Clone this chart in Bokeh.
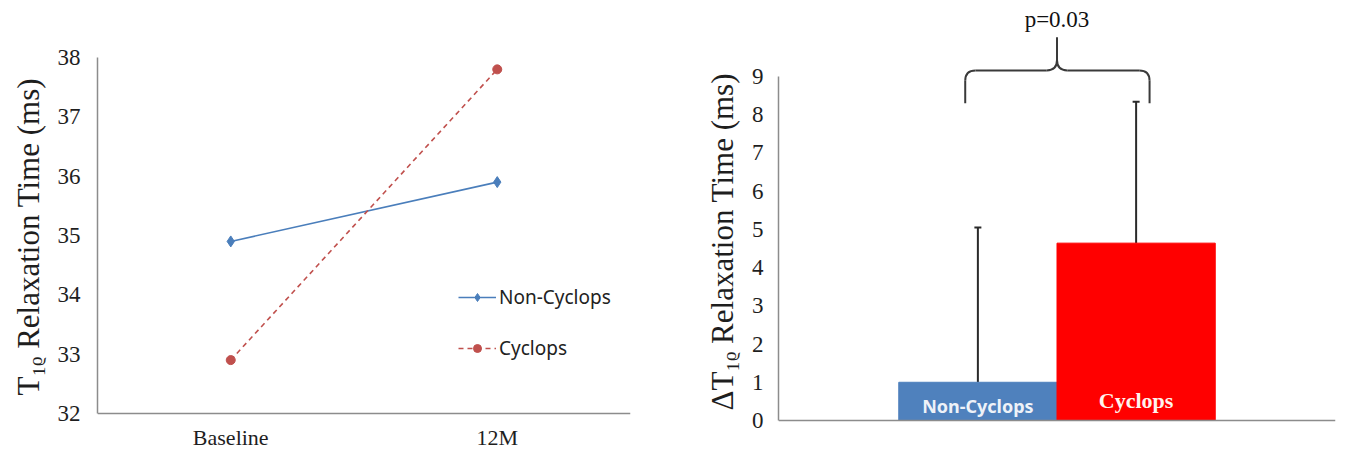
import numpy as np
from bokeh.plotting import figure
from bokeh.models import (FactorRange, Range1d, FixedTicker, Whisker, TeeHead,
                          ColumnDataSource, Label, Title)
from bokeh.layouts import row
from bokeh.core.properties import value
from bokeh.embed import file_html
from bokeh.resources import INLINE

# ---------------- data ----------------
timepoints = ["Baseline", "12M"]
non_cyclops = [34.9, 35.9]
cyclops = [32.9, 37.8]
left_ticks = [32, 33, 34, 35, 36, 37, 38]

groups = ["Non-Cyclops", "Cyclops"]
delta_mean = [1.0, 4.64]
delta_sd = [4.05, 3.70]
right_ticks = [0, 1, 2, 3, 4, 5, 6, 7, 8, 9]
p_text = "p=0.03"

BLUE_LINE = "#4A7EBB"
RED_LINE = "#C0504D"
BLUE_BAR = "#4F81BD"
RED_BAR = "#FF0000"
AXIS_GRAY = "#8C8C8C"
TXT = "#1E1E1E"
SERIF = "Liberation Serif"

H = 454
FRAME_BOTTOM = 450       # both frames span y = 0 .. 450 on the page
BOTTOM = H - FRAME_BOTTOM
W1, W2 = 672, 672


def style_axis(ax, size="23px"):
    ax.axis_line_color = AXIS_GRAY
    ax.axis_line_width = 1.5
    ax.major_tick_line_color = None
    ax.minor_tick_line_color = None
    ax.major_tick_out = 0
    ax.major_tick_in = 0
    ax.major_label_text_font = SERIF
    ax.major_label_text_font_size = size
    ax.major_label_text_color = TXT


# ---------------- left: line chart ----------------
ppu1 = 356 / 6.0         # 38 at y=57, 32 at y=413
p1 = figure(x_range=FactorRange(*timepoints, range_padding=0),
            y_range=Range1d(32 - (FRAME_BOTTOM - 413) / ppu1, 38 + 57 / ppu1),
            width=W1, height=H, output_backend="svg", toolbar_location=None,
            min_border_left=95, min_border_right=W1 - 95 - 535, min_border_top=0,
            min_border_bottom=BOTTOM)
p1.title.visible = False
p1.outline_line_color = None
p1.grid.grid_line_color = None

p1.line(timepoints, non_cyclops, line_color=BLUE_LINE, line_width=1.6,
        legend_label="Non-Cyclops")
p1.scatter(timepoints, non_cyclops, marker="diamond", size=11,
           fill_color=BLUE_LINE, line_color=BLUE_LINE, legend_label="Non-Cyclops")
p1.line(timepoints, cyclops, line_color=RED_LINE, line_width=1.6,
        line_dash="5 4", legend_label="Cyclops")
p1.scatter(timepoints, cyclops, marker="circle", size=9,
           fill_color=RED_LINE, line_color=RED_LINE, legend_label="Cyclops")

xa1 = p1.xaxis[0]
style_axis(xa1, "1px")
xa1.fixed_location = left_ticks[0]
xa1.major_label_text_color = None
xa1.major_label_standoff = 0
ya = p1.yaxis[0]
style_axis(ya)
ya.ticker = FixedTicker(ticks=left_ticks)
ya.bounds = (left_ticks[0], left_ticks[-1])
ya.major_label_standoff = 17

# category labels under the x axis line
p1.text(x=timepoints, y=left_ticks[0], text=timepoints, text_font=value(SERIF),
        text_font_size="22px", text_color=TXT, text_align="center",
        text_baseline="middle", y_offset=24)

p1.add_layout(Title(text="T\u2081\u1d68 Relaxation Time (ms)", align="left",
                    offset=55, standoff=17, text_font=SERIF,
                    text_font_size="31px", text_font_style="normal",
                    text_color=TXT), "left")

lg = p1.legend[0]
lg.location = (361, 89)
lg.border_line_color = None
lg.background_fill_alpha = 0
lg.padding = 0
lg.margin = 0
lg.spacing = 25
lg.glyph_width = 38
lg.glyph_height = 20
lg.label_standoff = 3
lg.label_text_font = "Noto Sans"
lg.label_text_font_size = "19px"
lg.label_text_color = "#222222"

# ---------------- right: bar chart ----------------
ppu2 = 344 / 9.0         # 0 at y=420, 9 at y=76
p2 = figure(x_range=FactorRange(*groups, range_padding=0.76,
                                range_padding_units="absolute"),
            y_range=Range1d(-(FRAME_BOTTOM - 420) / ppu2, 420 / ppu2),
            width=W2, height=H, output_backend="svg", toolbar_location=None,
            min_border_left=778 - W1, min_border_right=W1 + W2 - 1335,
            min_border_top=0, min_border_bottom=BOTTOM)
p2.title.visible = False
p2.outline_line_color = None
p2.grid.grid_line_color = None

upper = (np.array(delta_mean) + np.array(delta_sd)).tolist()
src = ColumnDataSource(dict(group=groups, mean=delta_mean, upper=upper,
                            color=[BLUE_BAR, RED_BAR]))
p2.vbar(x="group", top="mean", bottom=0, width=1.0, source=src,
        fill_color="color", line_color="color")

wh = Whisker(source=src, base="group", lower="mean", upper="upper",
             line_color="#2A2A2A", line_width=2,
             upper_head=TeeHead(size=7, line_color="#2A2A2A", line_width=2),
             lower_head=None)
p2.add_layout(wh)

# bar labels inside the bars
p2.text(x=[groups[0]], y=0, text=[groups[0]], text_font=value("Noto Sans"),
        text_font_style="bold", text_font_size="18px", text_color="#EEF2F8",
        text_align="center", text_baseline="middle", y_offset=-15)
p2.text(x=[groups[1]], y=0, text=[groups[1]], text_font=value(SERIF),
        text_font_style="bold", text_font_size="22px", text_color="#FFF3EE",
        text_align="center", text_baseline="middle", y_offset=-20)

# significance brace between the two groups
y0 = max(upper) - 0.04
yh = y0 + 0.86
yt = y0 + 1.73
xl, xr, xc = 0.42, 1.585, 1.0
dx, dy = 0.065, 0.27
bc = "#3A3A3A"
bw = 2
p2.segment(x0=[xl, xr, xl + dx, xc + dx, xc], y0=[y0, y0, yh, yh, yh + dy],
           x1=[xl, xr, xc - dx, xr - dx, xc], y1=[yh - dy, yh - dy, yh, yh, yt],
           line_color=bc, line_width=bw)
p2.quadratic(x0=[xl, xr, xc - dx, xc + dx], y0=[yh - dy, yh - dy, yh, yh],
             x1=[xl + dx, xr - dx, xc, xc], y1=[yh, yh, yh + dy, yh + dy],
             cx=[xl, xr, xc, xc], cy=[yh, yh, yh, yh],
             line_color=bc, line_width=bw)
p2.add_layout(Label(x=xc, y=yt + 0.45, text=p_text, text_font=SERIF,
                    text_font_size="23px", text_color="#111111",
                    text_align="center", text_baseline="middle"))

xa2 = p2.xaxis[0]
style_axis(xa2, "1px")
xa2.fixed_location = 0
xa2.major_label_text_color = None
xa2.major_label_standoff = 0
ya2 = p2.yaxis[0]
style_axis(ya2)
ya2.ticker = FixedTicker(ticks=right_ticks)
ya2.bounds = (right_ticks[0], right_ticks[-1])
ya2.major_label_standoff = 15

p2.add_layout(Title(text="\u0394T\u2081\u1d68 Relaxation Time (ms)", align="left",
                    offset=40, standoff=17, text_font=SERIF,
                    text_font_size="31px", text_font_style="normal",
                    text_color=TXT), "left")

layout = row(p1, p2)
open("out.html", "w").write(file_html(layout, INLINE))
